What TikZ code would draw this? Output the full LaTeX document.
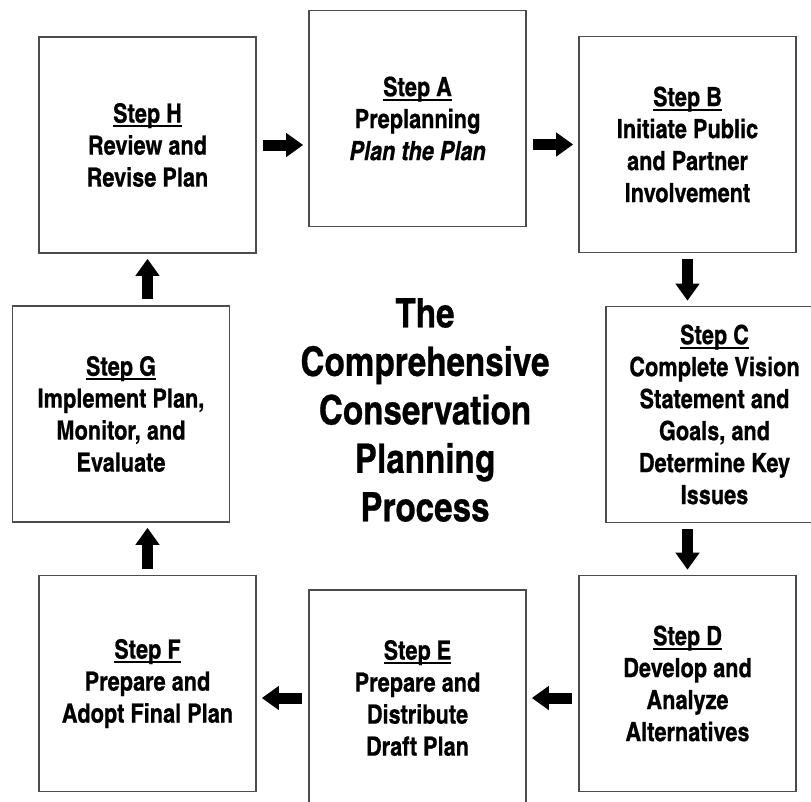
\documentclass[tikz,border=0pt]{standalone}
\usepackage{fontspec}
\setmainfont{texgyreheroscn}[Extension=.otf,UprightFont=*-bold,BoldFont=*-bold,ItalicFont=*-bolditalic,BoldItalicFont=*-bolditalic,FakeBold=0.6]
\usetikzlibrary{arrows.meta}
\newsavebox{\stepbx}
\newcommand{\stephead}[1]{\sbox{\stepbx}{Step #1}\rlap{\usebox{\stepbx}}\raisebox{-4.5pt}{\rule{\wd\stepbx}{1.7pt}}\\}
\begin{document}
\begin{tikzpicture}[x=1pt,y=-1pt,
		stepbox/.style={draw=black!70,line width=1.6pt,minimum width=217pt,minimum height=216pt,align=center,font=\fontsize{26.5}{32}\selectfont,inner sep=0pt},
		fatarrow/.style={line width=11pt,-{Triangle[length=17pt,width=23pt]},shorten <=6pt,shorten >=5pt}]
				\clip (0,0) rectangle (811,801);
				\fill[white] (0,0) rectangle (811,801);
				% top row
				\node[stepbox] (H) at (147.5,145) {\stephead{H}Review and\\Revise Plan};
				\node[stepbox] (A) at (417.5,118.5) {\stephead{A}Preplanning\\\textit{Plan the Plan}};
				\node[stepbox] (B) at (687.5,144.5) {\stephead{B}Initiate Public\\and Partner\\Involvement};
				% middle row
				\node[stepbox] (G) at (121,414) {\stephead{G}Implement Plan,\\Monitor, and\\Evaluate};
				\node[stepbox] (C) at (714.5,414.5) {\stephead{C}Complete Vision\\Statement and\\Goals, and\\Determine Key\\Issues};
				% bottom row
				\node[stepbox] (F) at (147.5,683.5) {\stephead{F}Prepare and\\Adopt Final Plan};
				\node[stepbox] (E) at (417.5,698) {\stephead{E}Prepare and\\Distribute\\Draft Plan};
				\node[stepbox] (D) at (687.5,683.5) {\stephead{D}Develop and\\Analyze\\Alternatives};
				% title
				\node[align=center,font=\fontsize{40.5}{48.5}\selectfont] (title) at (425,410) {The\\Comprehensive\\Conservation\\Planning\\Process};
				% arrows round the cycle
				\draw[fatarrow] (H.east) -- (H.east -| A.west);
				\draw[fatarrow] (B.west -| A.east) -- (B.west);
				\draw[fatarrow] (B.south) -- (B.south |- C.north);
				\draw[fatarrow] (D.north |- C.south) -- (D.north);
				\draw[fatarrow] (D.west |- E.east) -- (E.east);
				\draw[fatarrow] (E.west) -- (E.west -| F.east);
				\draw[fatarrow] (F.north) -- (F.north |- G.south);
				\draw[fatarrow] (H.south |- G.north) -- (H.south);
			\end{tikzpicture}
\end{document}
